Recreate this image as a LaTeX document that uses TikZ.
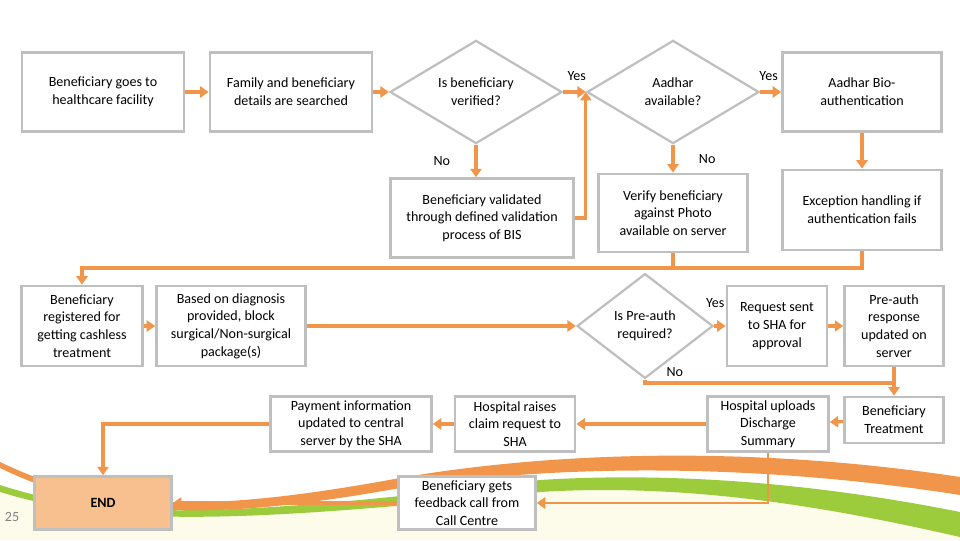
\documentclass[tikz,border=0pt]{standalone}
\usepackage{fontspec}
\setmainfont{Carlito}
\usetikzlibrary{shapes.geometric,arrows.meta}
\definecolor{orng}{HTML}{F0954A}
\definecolor{grn}{HTML}{9CCB3B}
\definecolor{bordergray}{HTML}{BFBFBF}
\definecolor{peach}{HTML}{F8C08E}
\definecolor{cream}{HTML}{FDFBEA}
\tikzset{
  box/.style={draw=bordergray, line width=2pt, fill=white, align=center, inner sep=2pt},
  dec/.style={diamond, draw=bordergray, line width=1.6pt, fill=white, align=center, inner sep=0pt},
  line/.style={draw=orng, line width=2.2pt},
  arr/.style={line, -{Triangle[length=6pt,width=8pt]}},
  lbl/.style={font=\fontsize{10}{12}\selectfont}
}
\begin{document}
\begin{tikzpicture}[x=0.025cm,y=-0.025cm,font=\fontsize{10}{12.6}\selectfont]
\useasboundingbox (0,0) rectangle (960,540);
% decorative swooshes
\fill[cream] (0,492) .. controls (100,522) and (200,528) .. (540,492) .. controls (700,482) and (850,512) .. (960,537) -- (960,540) -- (0,540) -- cycle;
\fill[grn] (0,485) .. controls (100,517) and (200,522) .. (540,480) .. controls (700,470) and (850,490) .. (960,512)
  -- (960,537) .. controls (850,512) and (700,482) .. (540,492) .. controls (200,528) and (100,522) .. (0,492) -- cycle;
\fill[orng] (0,462) .. controls (100,510) and (200,515) .. (400,478) .. controls (550,452) and (750,445) .. (960,477)
  -- (960,495) .. controls (750,462) and (550,465) .. (400,488) .. controls (200,524) and (100,516) .. (0,468) -- cycle;
\node[text=gray] (pg) at (12,517) {25};

% row 1
\node[box, minimum width=4.05cm, minimum height=1.97cm] (b1) at (103,92) {Beneficiary goes to\\healthcare facility};
\node[box, minimum width=4.05cm, minimum height=1.97cm] (b2) at (291,92) {Family and beneficiary\\details are searched};
\node[dec, minimum width=4.3cm, minimum height=2.58cm] (d1) at (476,92) {Is beneficiary\\verified?};
\node[dec, minimum width=4.3cm, minimum height=2.58cm] (d2) at (673,92) {Aadhar\\available?};
\node[box, minimum width=3.97cm, minimum height=1.97cm] (b3) at (862,92) {Aadhar Bio-\\authentication};
% row 2
\node[box, minimum width=4.57cm, minimum height=1.97cm] (b4) at (482,218) {Beneficiary validated\\through defined validation\\process of BIS};
\node[box, minimum width=3.72cm, minimum height=1.95cm] (b5) at (673,213) {Verify beneficiary\\against Photo\\available on server};
\node[box, minimum width=3.97cm, minimum height=2cm] (b6) at (862,210) {Exception handling if\\authentication fails};
% row 3
\node[box, minimum width=3.02cm, minimum height=2cm] (b7) at (82,326) {Beneficiary\\registered for\\getting cashless\\treatment};
\node[box, minimum width=3.72cm, minimum height=2cm] (b8) at (231,326) {Based on diagnosis\\provided, block\\surgical/Non-surgical\\package(s)};
\node[dec, minimum width=3.4cm, minimum height=2.62cm] (d3) at (645,326) {Is Pre-auth\\required?};
\node[box, minimum width=2.5cm, minimum height=2cm] (b9) at (777,326) {Request sent\\to SHA for\\approval};
\node[box, minimum width=2.47cm, minimum height=2cm] (b10) at (894,326) {Pre-auth\\response\\updated on\\server};
% row 4
\node[box, minimum width=2.47cm, minimum height=1.15cm] (b11) at (894,420) {Beneficiary\\Treatment};
\node[box, minimum width=3.02cm, minimum height=1.37cm] (b12) at (768,424) {Hospital uploads\\Discharge\\Summary};
\node[box, minimum width=3cm, minimum height=1.37cm] (b13) at (515,424) {Hospital raises\\claim request to\\SHA};
\node[box, minimum width=4.02cm, minimum height=1.37cm] (b14) at (351,424) {Payment information\\updated to central\\server by the SHA};
% row 5
\node[box, fill=peach, minimum width=3.42cm, minimum height=1.32cm, font=\fontsize{10}{12}\selectfont\bfseries] (end) at (103,503) {END};
\node[box, minimum width=3.42cm, minimum height=1.32cm] (b15) at (467,503) {Beneficiary gets\\feedback call from\\Call Centre};

\coordinate (busL) at (82,268);
\coordinate (noc) at (894,383);

% connectors
\draw[arr] (b1) -- (b2);
\draw[arr] (b2) -- (d1);
\draw[arr] (d1) -- node[lbl, above, pos=0.6, yshift=4pt] {Yes} (d2);
\draw[arr] (d2) -- node[lbl, above, pos=0.4, yshift=4pt] {Yes} (b3);
\draw[arr] (d1) -- node[lbl, left, xshift=-14pt] {No} (b4.north -| d1.south);
\draw[arr] (d2) -- node[lbl, right, xshift=14pt] {No} (b5);
\draw[arr] (b4.east) -| (d2.west);
\draw[arr] (b3) -- (b6);
\draw[arr] (b6.south) |- (busL) -- (b7.north);
\draw[line] (b5.south) -- (b5.south |- busL);
\draw[arr] (b7) -- (b8);
\draw[arr] (b8) -- (d3);
\draw[arr] (d3) -- node[lbl, above, pos=0.1, yshift=9pt] {Yes} (b9);
\draw[arr] (b9) -- (b10);
\draw[arr] (b10) -- (b11);
\draw[line] (d3.south) |- node[lbl, pos=0.56, above] {No} (noc);
\draw[arr] (b11) -- (b12);
\draw[arr] (b12) -- (b13);
\draw[arr] (b13) -- (b14);
\draw[arr] (b14.west) -| (end.north);
\draw[arr, line width=1.6pt] (b12.south) |- (b15.east);
\draw[arr] (b15) -- (end);
\end{tikzpicture}
\end{document}
